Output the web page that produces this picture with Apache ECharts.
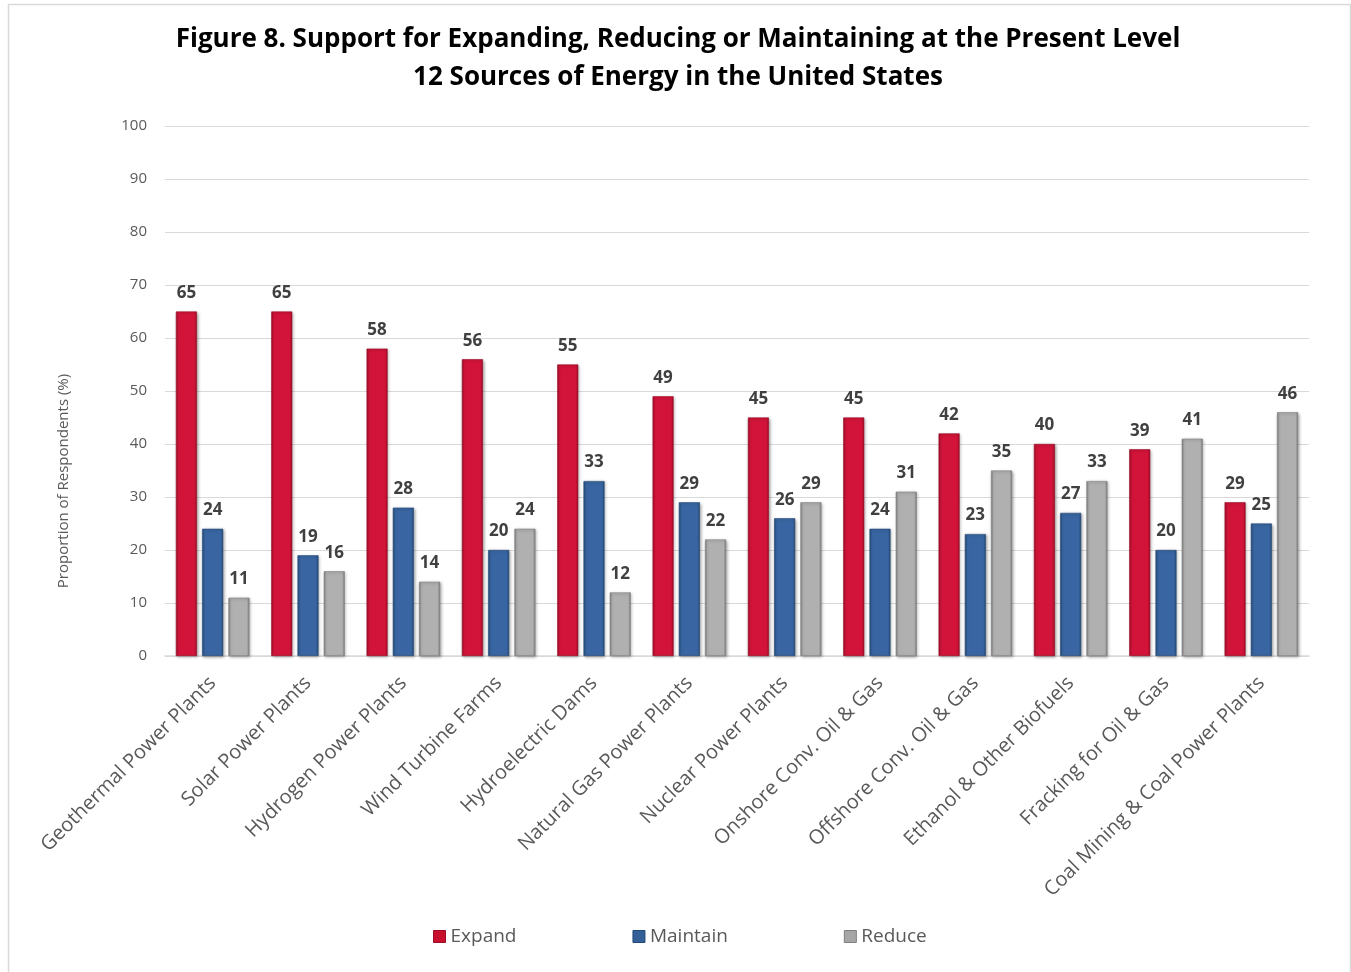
<!DOCTYPE html>
<html>
<head>
<meta charset="utf-8">
<title>Figure 8</title>
<script src="https://cdn.jsdelivr.net/npm/echarts@6/dist/echarts.min.js"></script>
<style>
  html, body { margin: 0; padding: 0; background: #ffffff; }
  #chart { width: 1351px; height: 972px; }
</style>
</head>
<body>
<div id="chart"></div>
<script>
// Energy sources, in the order they are ranked by support for expansion
const categories = [
  'Geothermal Power Plants', 'Solar Power Plants', 'Hydrogen Power Plants',
  'Wind Turbine Farms', 'Hydroelectric Dams', 'Natural Gas Power Plants',
  'Nuclear Power Plants', 'Onshore Conv. Oil & Gas', 'Offshore Conv. Oil & Gas',
  'Ethanol & Other Biofuels', 'Fracking for Oil & Gas', 'Coal Mining & Coal Power Plants'
];
// Share of respondents (%) for each option
const expandValues   = [65, 65, 58, 56, 55, 49, 45, 45, 42, 40, 39, 29];
const maintainValues = [24, 19, 28, 20, 33, 29, 26, 24, 23, 27, 20, 25];
const reduceValues   = [11, 16, 14, 24, 12, 22, 29, 31, 35, 33, 41, 46];
const seriesNames = ['Expand', 'Maintain', 'Reduce'];
const yTicks = [0, 10, 20, 30, 40, 50, 60, 70, 80, 90, 100];

const FONT = '"Open Sans", "DejaVu Sans", sans-serif';

// Bevelled-bar look: darker at the edges, brighter through the middle
function barFill(edge, mid) {
  return new echarts.graphic.LinearGradient(0, 0, 1, 0, [
    { offset: 0, color: edge },
    { offset: 0.12, color: mid },
    { offset: 0.88, color: mid },
    { offset: 1, color: edge }
  ]);
}

const palette = [
  { edge: '#9e0b26', mid: '#d2143a', legend: '#c8102e' },
  { edge: '#234a78', mid: '#3966a2', legend: '#355f97' },
  { edge: '#7f7f7f', mid: '#b0b0b0', legend: '#a6a6a6' }
];

function makeSeries(name, values, colors) {
  return {
    name: name,
    type: 'bar',
    data: values,
    barWidth: 21,
    barGap: '25%',
    itemStyle: {
      color: barFill(colors.edge, colors.mid),
      borderColor: colors.edge,
      borderWidth: 0.6,
      shadowColor: 'rgba(0,0,0,0.35)',
      shadowBlur: 3,
      shadowOffsetX: 1,
      shadowOffsetY: 1
    },
    label: {
      show: true,
      position: 'top',
      distance: 10,
      fontFamily: FONT,
      fontWeight: 'bold',
      fontSize: 17,
      color: '#404040'
    },
    emphasis: { disabled: true }
  };
}

const chart = echarts.init(document.getElementById('chart'), null, { renderer: 'canvas' });

chart.setOption({
  backgroundColor: '#ffffff',
  animation: false,
  title: {
    text: 'Figure 8. Support for Expanding, Reducing or Maintaining at the Present Level\n12 Sources of Energy in the United States',
    left: 673,
    top: 16,
    textAlign: 'center',
    textStyle: {
      fontFamily: FONT,
      fontWeight: 'bold',
      fontSize: 26,
      lineHeight: 38,
      color: '#000000'
    }
  },
  legend: {
    data: seriesNames.map((n, i) => ({
      name: n,
      itemStyle: { color: palette[i].legend, borderColor: palette[i].edge, borderWidth: 1 }
    })),
    top: 922,
    left: 428,
    itemGap: 116,
    itemWidth: 12,
    itemHeight: 12,
    icon: 'rect',
    textStyle: { fontFamily: FONT, fontSize: 19, color: '#595959' }
  },
  grid: {
    left: 165,
    right: 42,
    top: 126,
    bottom: 316,
    containLabel: false
  },
  xAxis: {
    type: 'category',
    data: categories,
    axisLine: { lineStyle: { color: '#d9d9d9', width: 1.5 } },
    axisTick: { show: false },
    axisLabel: {
      interval: 0,
      rotate: 45,
      margin: 24,
      fontFamily: FONT,
      fontSize: 20,
      color: '#595959'
    }
  },
  yAxis: {
    type: 'value',
    min: yTicks[0],
    max: yTicks[yTicks.length - 1],
    interval: 10,
    axisLine: { show: false },
    axisTick: { show: false },
    splitLine: { lineStyle: { color: '#d9d9d9', width: 1 } },
    axisLabel: {
      margin: 18,
      fontFamily: FONT,
      fontSize: 15,
      color: '#595959'
    }
  },
  series: [
    makeSeries(seriesNames[0], expandValues, palette[0]),
    makeSeries(seriesNames[1], maintainValues, palette[1]),
    makeSeries(seriesNames[2], reduceValues, palette[2])
  ],
  graphic: [
    {
      type: 'rect',
      left: 6,
      top: 2,
      shape: { width: 1342, height: 990 },
      style: { fill: 'none', stroke: '#d9d9d9', lineWidth: 1.5 },
      silent: true
    },
    {
      // vertical axis title
      type: 'text',
      x: 64,
      y: 481,
      rotation: Math.PI / 2,
      style: {
        text: 'Proportion of Respondents (%)',
        fontFamily: FONT,
        fontSize: 15,
        fill: '#595959',
        align: 'center',
        verticalAlign: 'middle'
      },
      silent: true
    }
  ]
});
</script>
</body>
</html>
